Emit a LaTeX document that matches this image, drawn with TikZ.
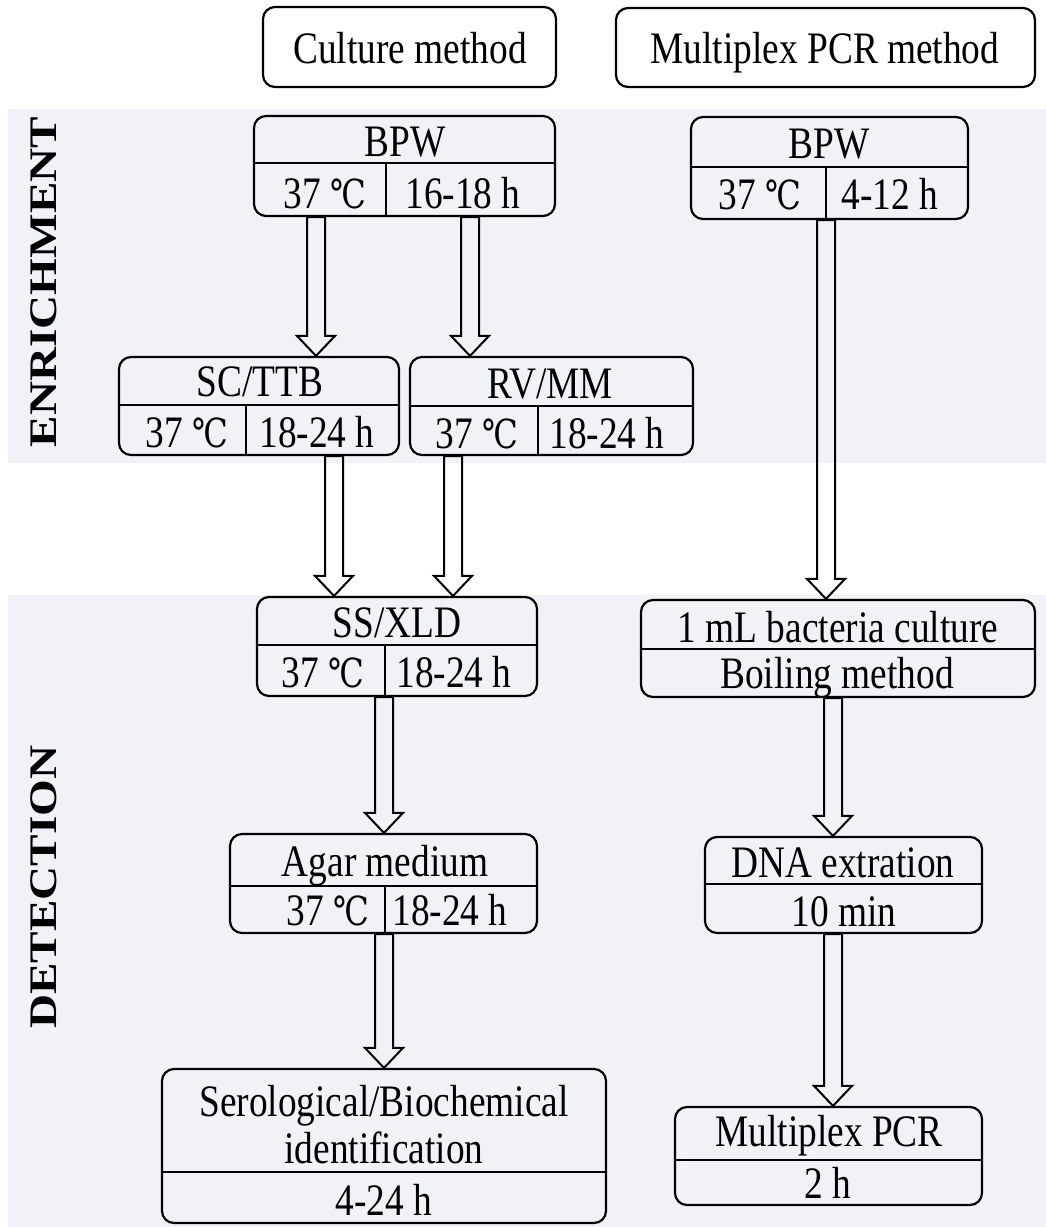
\documentclass[tikz,border=0pt]{standalone}
\usepackage{fontspec}
\setmainfont[FakeStretch=0.83]{Liberation Serif}
\newfontfamily\sidefont[FakeStretch=1.21]{Liberation Serif}
\newfontfamily\degfont[FakeStretch=0.8]{DejaVu Serif}
\usetikzlibrary{calc}

\definecolor{bandgray}{RGB}{240,242,248}
\newcommand{\degc}{{\degfont\fontsize{40}{48}\selectfont ℃}}
% rounded box from left/top to right/bottom (pixel units)
\newcommand{\stage}[5]{\node[box, minimum width={#4-#2}, minimum height={#5-#3}] (#1) at ({(#2+#4)/2},{(#3+#5)/2}) {};}
% hollow block arrow
\newcommand{\blockarrow}[2]{%
  \draw[arrowline] ($(#1)+(-9,0)$) -- ($(#2)+(-9,-20)$) -- ($(#2)+(-19,-20)$)
    -- (#2) -- ($(#2)+(19,-20)$) -- ($(#2)+(9,-20)$) -- ($(#1)+(9,0)$) -- cycle;}

\tikzset{
  box/.style={draw, line width=2.2pt, rounded corners=12pt, inner sep=0pt},
  divline/.style={line width=2.2pt},
  arrowline/.style={line width=2pt, line join=miter},
  lab/.style={font=\fontsize{45}{54}\selectfont, inner sep=0pt, text height=30pt, text depth=0pt},
  side/.style={font=\sidefont\bfseries\fontsize{39}{47}\selectfont, rotate=90, inner sep=0pt}
}

\begin{document}
\begin{tikzpicture}[x=1pt,y=-1pt]
\useasboundingbox (0,0) rectangle (1046,1227);

% bands
\fill[bandgray] (8,109) rectangle (1046,463);
\fill[bandgray] (8,595) rectangle (1046,1227);
\node[side] (enrich) at (44,282) {ENRICHMENT};
\node[side] (detect) at (44,887) {DETECTION};

% headers
\stage{culture}{263}{7}{556}{87}
\stage{pcr}{616}{8}{1035}{87}
\node[lab] (culturet) at (410,48) {Culture method};
\node[lab] (pcrt) at (825,48) {Multiplex PCR method};

% culture method
\stage{bpwA}{254}{116}{555}{216}
\draw[divline] (bpwA.west |- 0,163) -- (bpwA.east |- 0,163);
\draw[divline] (386,163) -- (bpwA.south -| 386,0);
\node[lab] (bpwAt) at (405,141) {BPW};
\node[lab] (bpwAl) at (325,193) {37 \degc};
\node[lab] (bpwAr) at (463,193) {16-18 h};

\stage{scttb}{119}{357}{399}{455}
\draw[divline] (scttb.west |- 0,405) -- (scttb.east |- 0,405);
\draw[divline] (246,405) -- (scttb.south -| 246,0);
\node[lab] (scttbt) at (260,381) {SC/TTB};
\node[lab] (scttbl) at (187,432) {37 \degc};
\node[lab] (scttbr) at (317,432) {18-24 h};

\stage{rvmm}{410}{357}{693}{455}
\draw[divline] (rvmm.west |- 0,406) -- (rvmm.east |- 0,406);
\draw[divline] (538,406) -- (rvmm.south -| 538,0);
\node[lab] (rvmmt) at (550,383) {RV/MM};
\node[lab] (rvmml) at (477,433) {37 \degc};
\node[lab] (rvmmr) at (607,433) {18-24 h};

\stage{ssxld}{257}{597}{537}{696}
\draw[divline] (ssxld.west |- 0,645) -- (ssxld.east |- 0,645);
\draw[divline] (385,645) -- (ssxld.south -| 385,0);
\node[lab] (ssxldt) at (397,622) {SS/XLD};
\node[lab] (ssxldl) at (323,672) {37 \degc};
\node[lab] (ssxldr) at (454,672) {18-24 h};

\stage{agar}{230}{834}{537}{933}
\draw[divline] (agar.west |- 0,886) -- (agar.east |- 0,886);
\draw[divline] (385,886) -- (agar.south -| 385,0);
\node[lab] (agart) at (385,861) {Agar medium};
\node[lab] (agarl) at (328,910) {37 \degc};
\node[lab] (agarr) at (450,910) {18-24 h};

\stage{serol}{162}{1069}{606}{1223}
\draw[divline] (serol.west |- 0,1172) -- (serol.east |- 0,1172);
\node[lab] (serolt) at (384,1101) {Serological/Biochemical};
\node[lab] (serolm) at (384,1148) {identification};
\node[lab] (serolb) at (384,1200) {4-24 h};

% multiplex PCR method
\stage{bpwB}{691}{117}{968}{219}
\draw[divline] (bpwB.west |- 0,167) -- (bpwB.east |- 0,167);
\draw[divline] (826,167) -- (bpwB.south -| 826,0);
\node[lab] (bpwBt) at (829,143) {BPW};
\node[lab] (bpwBl) at (760,194) {37 \degc};
\node[lab] (bpwBr) at (890,194) {4-12 h};

\stage{boil}{641}{600}{1035}{697}
\draw[divline] (boil.west |- 0,649) -- (boil.east |- 0,649);
\node[lab] (boilt) at (838,627) {1 mL bacteria culture};
\node[lab] (boilb) at (837,673) {Boiling method};

\stage{dna}{705}{837}{982}{933}
\draw[divline] (dna.west |- 0,884) -- (dna.east |- 0,884);
\node[lab] (dnat) at (843,862) {DNA extration};
\node[lab] (dnab) at (844,911) {10 min};

\stage{mpcr}{675}{1107}{982}{1205}
\draw[divline] (mpcr.west |- 0,1160) -- (mpcr.east |- 0,1160);
\node[lab] (mpcrt) at (829,1131) {Multiplex PCR};
\node[lab] (mpcrb) at (828,1183) {2 h};

% arrows
\coordinate (xa) at (316,0);
\coordinate (xb) at (470,0);
\coordinate (xc) at (334,0);
\coordinate (xd) at (453,0);
\coordinate (xe) at (384,0);
\coordinate (xf) at (826,0);
\coordinate (xg) at (833,0);
\blockarrow{bpwA.south -| xa}{scttb.north -| xa}
\blockarrow{bpwA.south -| xb}{rvmm.north -| xb}
\blockarrow{scttb.south -| xc}{ssxld.north -| xc}
\blockarrow{rvmm.south -| xd}{ssxld.north -| xd}
\blockarrow{ssxld.south -| xe}{agar.north -| xe}
\blockarrow{agar.south -| xe}{serol.north -| xe}
\blockarrow{bpwB.south -| xf}{boil.north -| xf}
\blockarrow{boil.south -| xg}{dna.north -| xg}
\blockarrow{dna.south -| xg}{mpcr.north -| xg}
\end{tikzpicture}
\end{document}
